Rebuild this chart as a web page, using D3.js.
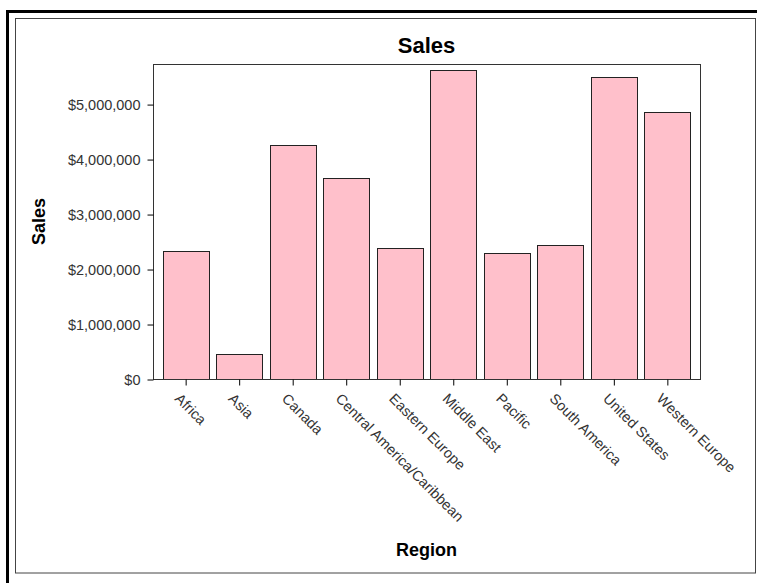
<!DOCTYPE html>
<html>
<head>
<meta charset="utf-8">
<script src="https://cdn.jsdelivr.net/npm/d3@7"></script>
<style>
  body { margin: 0; background: #fff; }
  svg { display: block; font-family: "Liberation Sans", Arial, sans-serif; }
</style>
</head>
<body>
<div class="plot"></div>
<script>
// data
const regions = ['Africa', 'Asia', 'Canada', 'Central America/Caribbean', 'Eastern Europe',
  'Middle East', 'Pacific', 'South America', 'United States', 'Western Europe'];
const sales = [2332000, 450000, 4250000, 3655000, 2390000, 5625000, 2290000, 2435000, 5495000, 4860000];
const yTicks = [0, 1000000, 2000000, 3000000, 4000000, 5000000];
const yMax = 5729000;

const W = 757, H = 583;
const plot = {left: 153, top: 64, right: 700, bottom: 379};

const svg = d3.select('.plot').append('svg')
  .attr('width', W)
  .attr('height', H);

//outer double frame (right and bottom of the thick one fall off the picture)
svg.append('rect')
  .attr('x', 7.5).attr('y', 11.5)
  .attr('width', 900).attr('height', 900)
  .style('fill', 'none').style('stroke', '#000').style('stroke-width', 3);
svg.append('rect')
  .attr('x', 15.5).attr('y', 18.5)
  .attr('width', 740).attr('height', 554.5)
  .style('fill', 'none').style('stroke', '#444').style('stroke-width', 1);

//scales
const x = d3.scaleBand()
  .domain(regions)
  .range([plot.left, plot.right])
  .paddingInner(0.14)
  .paddingOuter(0.18);
const y = d3.scaleLinear()
  .domain([0, yMax])
  .range([plot.bottom, plot.top]);

//bars
svg.append('g').selectAll('rect')
  .data(regions)
  .join('rect')
  .attr('x', d => Math.round(x(d)) + 0.5)
  .attr('y', (d, i) => Math.round(y(sales[i])) + 0.5)
  .attr('width', Math.round(x.bandwidth()))
  .attr('height', (d, i) => Math.round(y(0)) - Math.round(y(sales[i])))
  .style('fill', '#ffc0cb')
  .style('stroke', '#222')
  .style('stroke-width', 1);

//plot frame
svg.append('rect')
  .attr('x', plot.left + 0.5).attr('y', plot.top + 0.5)
  .attr('width', plot.right - plot.left).attr('height', plot.bottom - plot.top)
  .style('fill', 'none').style('stroke', '#333');

//y axis
const yAxis = svg.append('g')
  .attr('transform', `translate(${plot.left + 0.5},0.5)`)
  .call(d3.axisLeft(y).tickValues(yTicks).tickSize(6).tickPadding(7).tickFormat(d3.format('$,.0f')));
yAxis.select('.domain').remove();
yAxis.selectAll('line').style('stroke', '#000');
yAxis.selectAll('text')
  .style('font-size', '14.5px')
  .style('fill', '#333')
  .style('font-family', '"Liberation Sans", Arial, sans-serif');

//x axis
const xAxis = svg.append('g')
  .attr('transform', `translate(0.5,${plot.bottom + 0.5})`)
  .call(d3.axisBottom(x).tickSize(6).tickFormat(''));
xAxis.select('.domain').remove();
xAxis.selectAll('line').style('stroke', '#000');

svg.append('g').selectAll('text')
  .data(regions)
  .join('text')
  .attr('transform', d => `translate(${x(d) + x.bandwidth() / 2 - 8},${plot.bottom + 17}) rotate(45)`)
  .attr('dy', '0.35em')
  .style('font-size', '14.5px')
  .style('fill', '#333')
  .text(d => d);

//titles
svg.append('text')
  .attr('x', (plot.left + plot.right) / 2)
  .attr('y', 53)
  .attr('text-anchor', 'middle')
  .style('font-size', '22px')
  .style('font-weight', 'bold')
  .text('Sales');

svg.append('text')
  .attr('transform', `translate(45,${(plot.top + plot.bottom) / 2}) rotate(-90)`)
  .attr('text-anchor', 'middle')
  .style('font-size', '18px')
  .style('font-weight', 'bold')
  .text('Sales');

svg.append('text')
  .attr('x', (plot.left + plot.right) / 2)
  .attr('y', 556)
  .attr('text-anchor', 'middle')
  .style('font-size', '18px')
  .style('font-weight', 'bold')
  .text('Region');
</script>
</body>
</html>
